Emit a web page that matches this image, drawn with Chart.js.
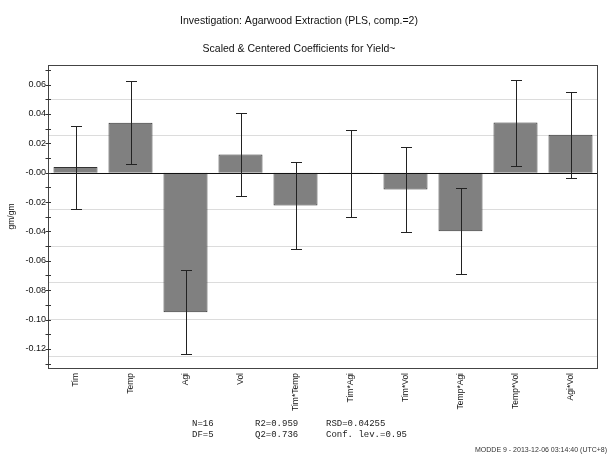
<!DOCTYPE html>
<html>
<head>
<meta charset="utf-8">
<script src="https://cdn.jsdelivr.net/npm/chart.js@4"></script>
<style>
  html, body { margin: 0; padding: 0; background: #fff; }
  #wrap { width: 612px; height: 462px; }
</style>
</head>
<body>
<div id="wrap"><canvas id="coef-chart" width="612" height="462"></canvas></div>
<script>
// terms and coefficients
const terms = ["Tim", "Temp", "Agi", "Vol", "Tim*Temp", "Tim*Agi", "Tim*Vol", "Temp*Agi", "Temp*Vol", "Agi*Vol"];
const coefs = [0.0038, 0.0340, -0.0950, 0.0123, -0.0223, -0.0006, -0.0114, -0.0399, 0.0341, 0.0258];
const confInt = [0.0283, 0.0284, 0.0286, 0.0283, 0.0294, 0.0294, 0.0291, 0.0293, 0.0293, 0.0292];

const yTickValues = [0.06, 0.04, 0.02, 0.00, -0.02, -0.04, -0.06, -0.08, -0.10, -0.12];
const yTickLabels = ["0.06", "0.04", "0.02", "-0.00", "-0.02", "-0.04", "-0.06", "-0.08", "-0.10", "-0.12"];
const yMin = -0.133;
const yMax = 0.0733;
const gridStep = 0.025;
const minorStep = 0.01;

const statsLines = [
  ["N=16", "R2=0.959", "RSD=0.04255"],
  ["DF=5", "Q2=0.736", "Conf. lev.=0.95"]
];
const footerText = "MODDE 9 - 2013-12-06 03:14:40 (UTC+8)";

const ctx = document.getElementById("coef-chart");

// frame, zero line, minor ticks, error bars, stats text
const extras = {
  id: "extras",
  afterDatasetsDraw(chart) {
    const c = chart.ctx;
    const area = chart.chartArea;
    const x = chart.scales.x;
    const y = chart.scales.y;
    c.save();

    // zero line
    c.strokeStyle = "#111";
    c.lineWidth = 1;
    const y0 = Math.round(y.getPixelForValue(0)) + 0.5;
    c.beginPath();
    c.moveTo(area.left, y0);
    c.lineTo(area.right, y0);
    c.stroke();

    // error bars
    c.strokeStyle = "#222";
    coefs.forEach((v, i) => {
      const px = Math.round(x.getPixelForValue(i)) + 0.5;
      const top = Math.round(y.getPixelForValue(v + confInt[i])) + 0.5;
      const bot = Math.round(y.getPixelForValue(v - confInt[i])) + 0.5;
      c.beginPath();
      c.moveTo(px, top); c.lineTo(px, bot);
      c.moveTo(px - 5.5, top); c.lineTo(px + 5.5, top);
      c.moveTo(px - 5.5, bot); c.lineTo(px + 5.5, bot);
      c.stroke();
    });

    // frame
    c.strokeStyle = "#444";
    c.strokeRect(area.left + 0.5, area.top + 0.5, area.right - area.left - 1, area.bottom - area.top);

    // ticks crossing the y axis
    c.strokeStyle = "#333";
    for (let k = Math.ceil(yMin / minorStep); k * minorStep <= yMax; k++) {
      const ty = Math.round(y.getPixelForValue(k * minorStep)) + 0.5;
      c.beginPath();
      c.moveTo(area.left - 2.5, ty);
      c.lineTo(area.left + 3, ty);
      c.stroke();
    }

    // statistics block
    c.fillStyle = "#222";
    c.font = "9px 'Liberation Mono', 'DejaVu Sans Mono', monospace";
    c.textBaseline = "middle";
    const cols = [192, 255, 326];
    statsLines.forEach((row, r) => {
      row.forEach((txt, j) => c.fillText(txt, cols[j], 424 + r * 11));
    });

    c.font = "7px 'Liberation Sans', Arial, sans-serif";
    c.fillStyle = "#333";
    c.fillText(footerText, 475, 450);
    c.restore();
  }
};

const coefChart = new Chart(ctx, {
  type: "bar",
  data: {
    labels: terms,
    datasets: [{
      data: coefs,
      backgroundColor: "#808080",
      borderColor: "#333333",
      borderWidth: 1,
      categoryPercentage: 0.8,
      barPercentage: 1.0
    }]
  },
  options: {
    responsive: false,
    animation: false,
    layout: { padding: { left: 0, right: 14, top: 0, bottom: 44 } },
    scales: {
      x: {
        grid: { display: false, drawTicks: false },
        border: { display: false },
        ticks: {
          minRotation: 90, maxRotation: 90, autoSkip: false, padding: 5,
          color: "#111",
          font: { family: "'Liberation Sans', Arial, sans-serif", size: 8.5 }
        },
        afterFit(scale) { scale.height = 50; }
      },
      y: {
        min: yMin,
        max: yMax,
        afterBuildTicks(scale) {
          scale.ticks = yTickValues.map(v => ({ value: v }));
        },
        grid: { display: false, drawTicks: false },
        border: { display: false },
        ticks: {
          padding: 2,
          color: "#111",
          font: { family: "'Liberation Sans', Arial, sans-serif", size: 9 },
          callback: (val, idx) => yTickLabels[idx]
        },
        title: {
          display: true,
          text: "gm/gm",
          color: "#111",
          padding: { top: 7, bottom: 0 },
          font: { family: "'Liberation Sans', Arial, sans-serif", size: 8.5 }
        },
        afterFit(scale) { scale.width = 48; }
      },
      yGrid: {
        position: "left",
        display: true,
        min: yMin,
        max: yMax,
        afterBuildTicks(scale) {
          const t = [];
          for (let k = Math.ceil(yMin / gridStep); k * gridStep <= yMax; k++) {
            if (k !== 0) t.push({ value: k * gridStep });
          }
          scale.ticks = t;
        },
        grid: { color: "#dcdcdc", drawTicks: false },
        border: { display: false },
        ticks: { display: false },
        afterFit(scale) { scale.width = 0; }
      }
    },
    plugins: {
      legend: { display: false },
      tooltip: { enabled: false },
      title: {
        display: true,
        text: "Investigation: Agarwood Extraction (PLS, comp.=2)",
        color: "#111",
        padding: { top: 15, bottom: 15 },
        font: { family: "'Liberation Sans', Arial, sans-serif", size: 10.5, weight: "normal" }
      },
      subtitle: {
        display: true,
        text: "Scaled & Centered Coefficients for Yield~",
        color: "#111",
        padding: { top: 0, bottom: 9.8 },
        font: { family: "'Liberation Sans', Arial, sans-serif", size: 10.5 }
      }
    }
  },
  plugins: [extras]
});
</script>
</body>
</html>
